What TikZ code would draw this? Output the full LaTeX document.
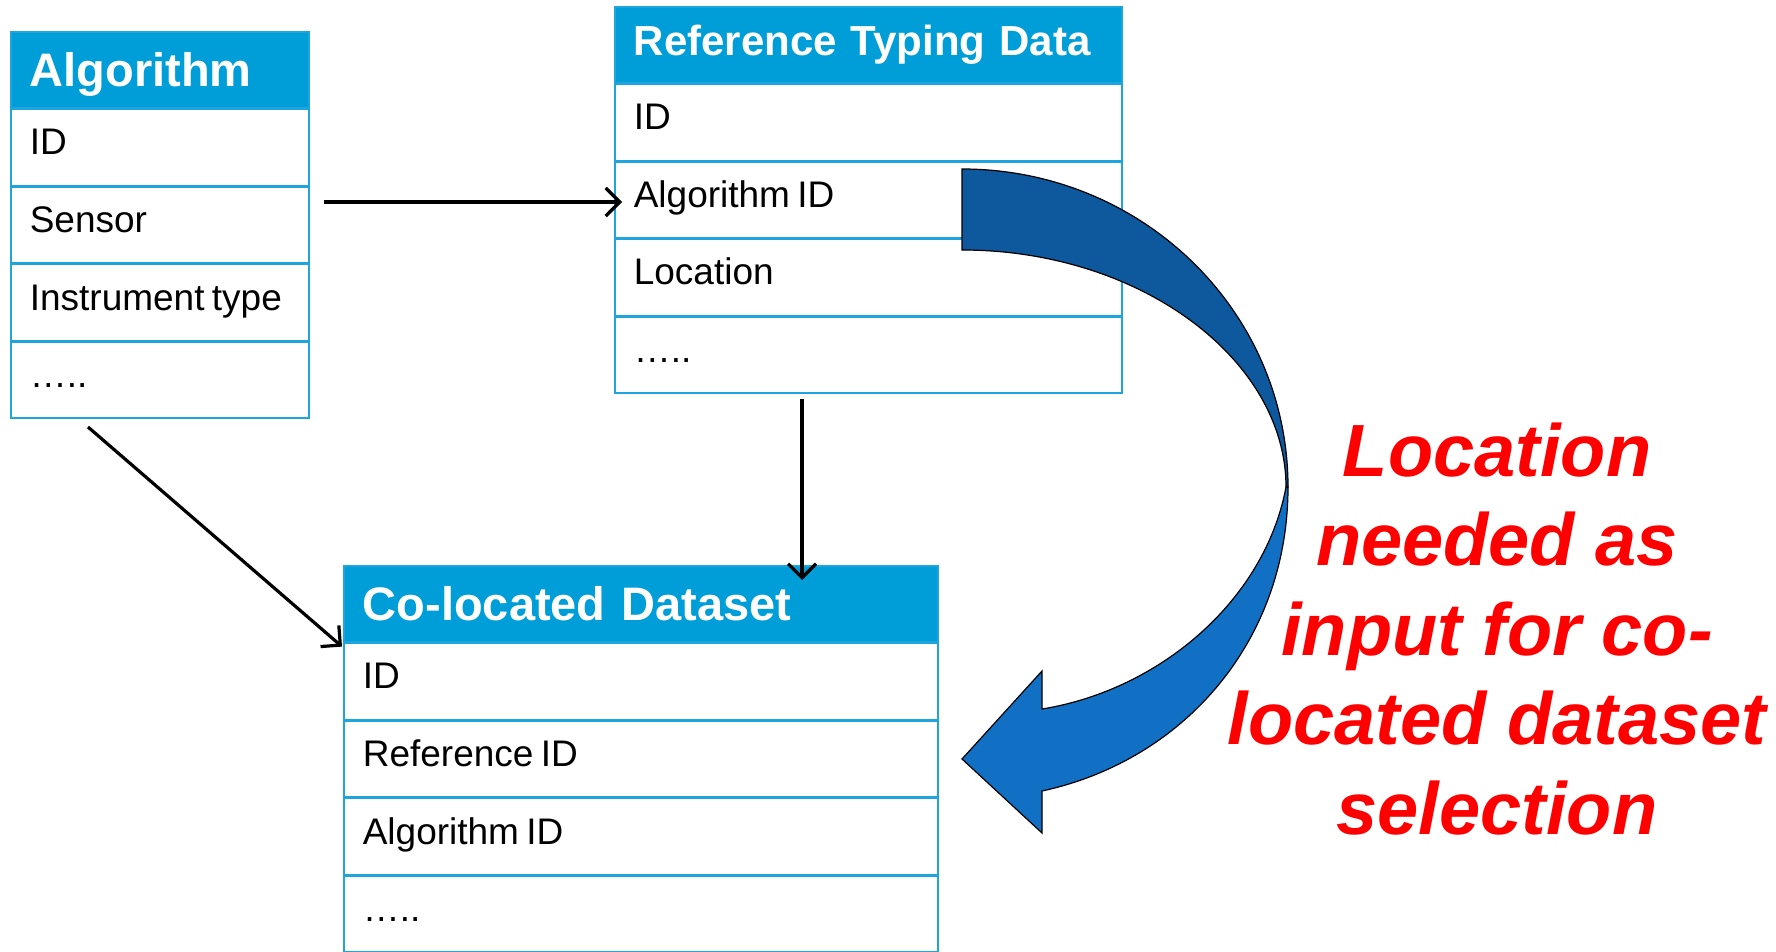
\documentclass[tikz,border=0pt]{standalone}
\usepackage{fontspec}
\setmainfont{Liberation Sans}
\usetikzlibrary{positioning,arrows.meta}
\definecolor{tblblue}{RGB}{30,165,222}
\definecolor{hdrblue}{RGB}{0,158,217}
\definecolor{darkband}{RGB}{14,88,158}
\definecolor{lightband}{RGB}{17,112,196}
\definecolor{notered}{RGB}{255,0,0}

\begin{document}
\begin{tikzpicture}[x=0.5pt, y=-0.5pt,
  node distance=0pt,
  tbl/.style={draw=tblblue, line width=0.8pt, rectangle, minimum height=38pt, inner xsep=9.5pt, inner ysep=0pt, align=left},
  hdr/.style={tbl, fill=hdrblue, text=white, font=\bfseries\fontsize{23.5}{28}\selectfont, text height=16.5pt, text depth=0pt},
  cell/.style={tbl, fill=white, font=\fontsize{18.5}{22}\selectfont, text height=7.4pt, text depth=0pt,
    execute at begin node={\spaceskip=0.2em\relax}},
  link/.style={line width=1.6pt, -{Straight Barb[length=7pt,width=14pt]}},
  band/.style={draw=black, line width=0.6pt}
  ]
  \useasboundingbox (0,0) rectangle (1776,952);

  % algorithm table
  \node[hdr, anchor=north west, text width=130pt] (alg) at (10,31) {Algorithm};
  \node[cell, below=of alg, text width=130pt] (alg-id) {ID};
  \node[cell, below=of alg-id, text width=130pt] (alg-sensor) {Sensor};
  \node[cell, below=of alg-sensor, text width=130pt] (alg-type) {Instrument type};
  \node[cell, below=of alg-type, text width=130pt] (alg-dots) {…..};

  % reference typing data table
  \node[hdr, anchor=north west, text width=234.5pt, text height=10.5pt, font=\bfseries\fontsize{21}{25}\selectfont] (rtd) at (614,6) {Reference Typing Data};
  \node[cell, below=of rtd, text width=234.5pt] (rtd-id) {ID};
  \node[cell, below=of rtd-id, text width=234.5pt] (rtd-algid) {Algorithm ID};
  \node[cell, below=of rtd-algid, text width=234.5pt] (rtd-loc) {Location};
  \node[cell, below=of rtd-loc, text width=234.5pt] (rtd-dots) {…..};

  % co-located dataset table
  \node[hdr, anchor=north west, text width=278pt] (cd) at (343,565) {Co-located Dataset};
  \node[cell, below=of cd, text width=278pt] (cd-id) {ID};
  \node[cell, below=of cd-id, text width=278pt] (cd-refid) {Reference ID};
  \node[cell, below=of cd-refid, text width=278pt] (cd-algid) {Algorithm ID};
  \node[cell, below=of cd-algid, text width=278pt] (cd-dots) {…..};

  % links
  \draw[link, shorten <=7pt, shorten >=-4pt] ([yshift=-1pt]alg-sensor.east |- rtd-algid.west) -- ([yshift=-1pt]rtd-algid.west);
  \coordinate (drop) at ([xshift=94pt, yshift=-2.5pt]rtd-dots.south west);
  \draw[link, shorten >=-7.5pt] (drop) -- (drop |- cd.north);
  \coordinate (slant) at ([xshift=39pt, yshift=-4pt]alg-dots.south west);
  \draw[link] (slant) -- ([xshift=-0.5pt, yshift=-2pt]cd-id.north west);

  % curved arrow
  \filldraw[band, fill=lightband] (1288,487) .. controls (1288,640) and (1185,760) .. (1042,791)
    -- (1042,833) -- (962,759) -- (1042,671) -- (1042,709)
    .. controls (1160,690) and (1265,600) .. (1286,487) -- cycle;
  \filldraw[band, fill=darkband] (962,169) .. controls (1142,169) and (1288,311) .. (1288,487)
    -- (1286,487) .. controls (1286,360) and (1141,250) .. (962,250) -- cycle;

  \node[text=notered, font=\bfseries\itshape\fontsize{37}{44.75}\selectfont, align=center] (note) at (1497,629)
    {Location\\ needed as\\ input for co-\\ located dataset\\ selection};
\end{tikzpicture}
\end{document}
